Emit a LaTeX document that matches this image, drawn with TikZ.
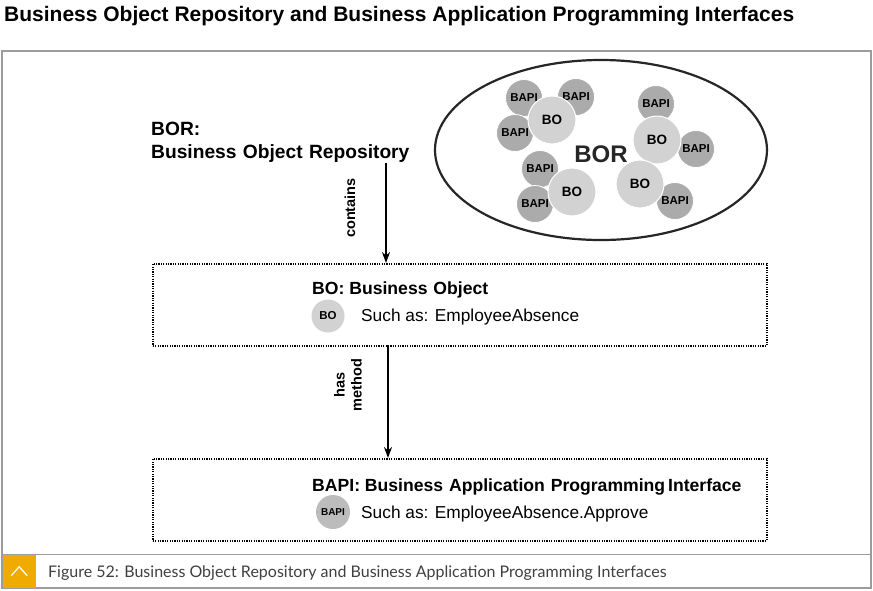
\documentclass[tikz,border=0pt]{standalone}
\usepackage{fontspec}
\setmainfont{Liberation Sans}
\newfontfamily\titlefont{Liberation Sans}
\newfontfamily\capfont{Lato}
\usetikzlibrary{arrows.meta}
\definecolor{bapigray}{HTML}{ABABAB}
\definecolor{bogray}{HTML}{D2D2D2}
\definecolor{framegray}{HTML}{9C9C9C}
\definecolor{sapyellow}{HTML}{F0AB00}
\tikzset{
  bapi/.style={circle,fill=bapigray,draw=white,line width=0.8pt,minimum size=37pt,inner sep=0pt,font=\bfseries\fontsize{11.5}{13}\selectfont},
  bo/.style={circle,fill=bogray,draw=white,line width=1pt,minimum size=48pt,inner sep=0pt,font=\bfseries\fontsize{13.5}{15}\selectfont},
  dotbox/.style={draw,line width=1.5pt,dash pattern=on 1.2pt off 1.2pt},
  arr/.style={line width=2.2pt,-{Stealth[length=11pt,width=8pt]}},
  heading/.style={anchor=base west,inner sep=0pt,font=\bfseries\fontsize{17.6}{20}\selectfont},
  body/.style={anchor=base west,inner sep=0pt,font=\fontsize{17.3}{20}\selectfont},
  edgelabel/.style={rotate=90,inner sep=0pt,font=\bfseries\fontsize{14.5}{17}\selectfont,align=center}
}
\begin{document}
\begin{tikzpicture}[x=1pt,y=-1pt]
\useasboundingbox (0,0) rectangle (873,590);
\fill[white] (0,0) rectangle (873,590);
% title
\node[anchor=base west,inner sep=0pt,font=\titlefont\bfseries\fontsize{21}{24}\selectfont] (title) at (4,21) {Business Object Repository and Business Application Programming Interfaces};
% frame
\draw[framegray,line width=1.2pt] (2,51) rectangle (871,588);
\draw[framegray,line width=1pt] (2,554) -- (871,554);
\node[fill=sapyellow,minimum width=33pt,minimum height=33pt,inner sep=0pt,anchor=north west] (ybox) at (2.5,555) {};
\draw[white,line width=1.2pt] ([shift={(-8,4)}]ybox.center) -- ([shift={(0,-5)}]ybox.center) -- ([shift={(8,4)}]ybox.center);
\node[anchor=base west,inner sep=0pt,text=black!75,font=\capfont\fontsize{16}{18}\selectfont] (caption) at (48,577) {Figure 52: Business Object Repository and Business Application Programming Interfaces};
% BOR ellipse
\draw[line width=2.2pt,black!85] (601,150) ellipse [x radius=166,y radius=90];
\node[bapi] (p1) at (524,98) {BAPI};
\node[bapi] (p2) at (576,97) {BAPI};
\node[bapi] (p3) at (515,133) {BAPI};
\node[bo] (o1) at (552,120) {BO};
\node[bapi] (p4) at (540,169) {BAPI};
\node[bapi] (p5) at (535,204) {BAPI};
\node[bo] (o2) at (572,192) {BO};
\node[bapi] (p6) at (656,104) {BAPI};
\node[bapi] (p7) at (696,149) {BAPI};
\node[bo] (o3) at (657,140) {BO};
\node[bapi] (p8) at (675,201) {BAPI};
\node[bo] (o4) at (640,184) {BO};
\node[inner sep=0pt,font=\bfseries\fontsize{24}{27}\selectfont,text=black!85] (bor) at (601,154) {BOR};
% left heading
\node[heading,font=\bfseries\fontsize{19.2}{22}\selectfont] (borlbl) at (151,135) {BOR:};
\node[heading,font=\bfseries\fontsize{19.2}{22}\selectfont] (borname) at (151,158) {Business\,\,Object\,\,Repository};
% box 1
\node[dotbox,minimum width=614pt,minimum height=82pt,anchor=north west] (box1) at (152,263) {};
\node[heading] (bohead) at (312,294) {BO: Business\,\,Object};
\node[circle,fill=bogray,minimum size=33pt,inner sep=0pt,font=\bfseries\fontsize{11.5}{12}\selectfont] (bosmall) at (328,316) {BO};
\node[body] (boex) at (361,321) {Such as: EmployeeAbsence};
% box 2
\node[dotbox,minimum width=614pt,minimum height=82pt,anchor=north west] (box2) at (152,458) {};
\node[heading] (bapihead) at (312,491) {BAPI: Business\,\,Application\,\,Programming\,Interface};
\node[circle,fill=bapigray!80,minimum size=34pt,inner sep=0pt,font=\bfseries\fontsize{10}{11}\selectfont] (bapismall) at (333,512) {BAPI};
\node[body] (bapiex) at (361,518) {Such as: EmployeeAbsence.Approve};
% arrows
\coordinate (a1) at (386,163);
\draw[arr] (a1) -- (a1 |- box1.north);
\node[edgelabel] (contains) at (350,208) {contains};
\coordinate (a2) at (388,345);
\draw[arr] (a2) -- (a2 |- box2.north);
\node[edgelabel] (hasmethod) at (348,385) {has\\method};
\end{tikzpicture}
\end{document}
